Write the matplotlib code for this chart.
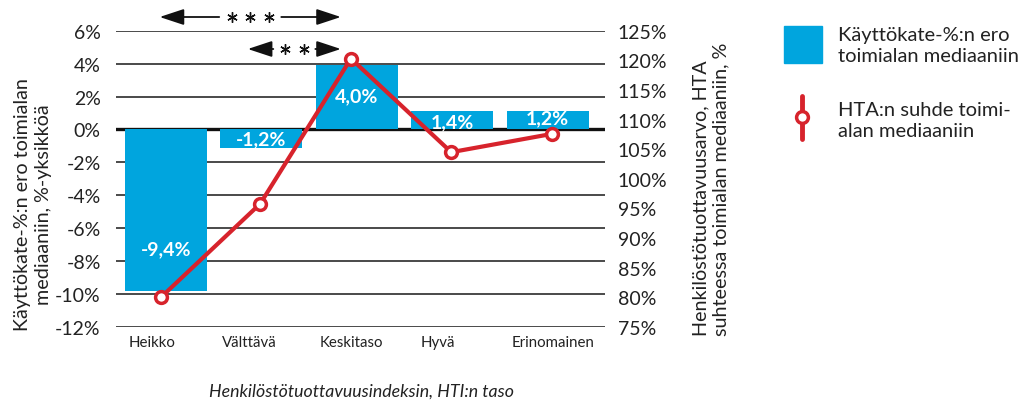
import matplotlib
matplotlib.use("Agg")
import matplotlib.pyplot as plt
import matplotlib.patches as mpatches
import matplotlib.lines as mlines
import matplotlib.transforms as mtrans
import numpy as np

plt.rcParams['font.family'] = ['Lato', 'DejaVu Sans']

categories = ["Heikko", "Välttävä", "Keskitaso", "Hyvä", "Erinomainen"]
bar_values = [-9.8, -1.15, 3.9, 1.1, 1.1]          # Käyttökate-%:n ero, %-yks.
bar_labels = ["-9,4%", "-1,2%", "4,0%", "1,4%", "1,2%"]
hta_values = [80.0, 95.8, 120.3, 104.5, 107.6]     # HTA suhde mediaaniin, %
left_ticks = [6, 4, 2, 0, -2, -4, -6, -8, -10, -12]
right_ticks = [125, 120, 115, 110, 105, 100, 95, 90, 85, 80, 75]
sig_pairs = [(0, 2, 3), (1, 2, 2)]                 # (from, to, number of stars)

BLUE = "#00A5DE"
RED = "#D7232C"
GRID = "#3c3c3c"
TXT = "#222222"
W, H = 1022, 402

fig = plt.figure(figsize=(W/100, H/100), dpi=100)
ax = fig.add_axes([116/W, 1-328/H, (605-116)/W, (328-31.7)/H])
ax2 = ax.twinx()

x = np.arange(len(categories))
ax.set_ylim(-12, 6)
ax2.set_ylim(75, 125)
ax.set_xlim(-0.52, 4.60)

for t in left_ticks:
    ax.axhline(t, color=GRID if t != 0 else "#111111", lw=1.3 if t != 0 else 2.4, zorder=1)

ax.bar(x, bar_values, width=0.86, color=BLUE, zorder=2)
label_frac = [0.74, 0.5, 0.53, 0.45, 0.66]
for xi, v, lab, fr in zip(x, bar_values, bar_labels, label_frac):
    ax.text(xi, v * fr, lab, ha="center", va="center", color="white",
            fontsize=14, fontweight="bold", zorder=3)

marker_dx = [-0.05, -0.01, -0.06, -0.01, 0.05]
ax2.plot(x + np.array(marker_dx), hta_values, color=RED, lw=3, marker="o", ms=8.5,
         mfc="white", mec=RED, mew=2.5, zorder=5)

for a in (ax, ax2):
    for s in a.spines.values():
        s.set_visible(False)
    a.tick_params(length=0, labelsize=14, labelcolor=TXT)

ax.set_yticks(left_ticks)
ax.set_yticklabels([f"{t}%" for t in left_ticks])
ax.tick_params(axis="y", pad=11)
ax2.set_yticks(right_ticks)
ax2.set_yticklabels([f"{t}%" for t in right_ticks])
ax2.tick_params(axis="y", pad=9)

xoff = [-0.14, -0.12, -0.06, -0.15, 0.06]
ax.set_xticks(x + np.array(xoff))
ax.set_xticklabels(categories, fontsize=10.8)
ax.tick_params(axis="x", pad=6)

fig.text(361/W, 1-392/H, "Henkilöstötuottavuusindeksin, HTI:n taso",
         ha="center", va="center", fontsize=12.8, style="italic", color=TXT)

fig.text(33/W, 1-205/H, "Käyttökate-%:n ero toimialan\nmediaaniin, %-yksikköä",
         rotation=90, ha="center", va="center", fontsize=14.2, color=TXT,
         linespacing=1.3)
fig.text(711/W, 1-336/H, "Henkilöstötuottavuusarvo, HTA\nsuhteessa toimialan mediaaniin, %",
         rotation=90, ha="center", va="bottom", multialignment="left",
         fontsize=14.2, color=TXT, linespacing=1.2)

# significance arrows: x in data units, y in figure pixels
blend = mtrans.blended_transform_factory(ax.transData, fig.transFigure)
px = 1 / 95.4  # one pixel in category units
def sig_arrow(i0, i1, n, ypix, left_off):
    y = 1 - ypix / H
    xa = i0 + left_off
    xb = i1 - 0.166
    xm = (xa + xb) / 2
    half = (10 * n + 1) * px
    kw = dict(arrowstyle="-|>,head_length=1.0,head_width=0.33", color="#111111",
              lw=1.3, shrinkA=0, shrinkB=0, mutation_scale=15)
    for tip, tail in ((xa, xm - half), (xb, xm + half)):
        ax.annotate("", xy=(tip, y), xytext=(tail, y), xycoords=blend,
                    textcoords=blend, arrowprops=kw, annotation_clip=False)
    xs = [xm + (k - (n - 1) / 2) * 18.5 * px for k in range(n)]
    ax.plot(xs, [y] * n, transform=blend, ls="none", marker=(6, 2, 0), ms=7.5,
            mew=1.0, color="#111111", clip_on=False)

sig_arrow(*sig_pairs[0], 18, -0.063)
sig_arrow(*sig_pairs[1], 50, -0.14)

# legend
fig.patches.append(mpatches.Rectangle((784/W, 1-64/H), 38/W, 37/H,
                   transform=fig.transFigure, color=BLUE, figure=fig))
fig.text(838/W, 1-46/H, "Käyttökate-%:n ero\ntoimialan mediaaniin",
         ha="left", va="center", fontsize=14.5, color=TXT, linespacing=1.3)
fig.add_artist(mlines.Line2D([802/W, 802/W], [1-97/H, 1-140/H],
               color=RED, lw=3.5, solid_capstyle="round"))
fig.add_artist(mlines.Line2D([802/W], [1-118/H], color=RED, marker="o",
               ms=8.5, mfc="white", mec=RED, mew=2.5))
fig.text(838/W, 1-121/H, "HTA:n suhde toimi-\nalan mediaaniin",
         ha="left", va="center", fontsize=14.5, color=TXT, linespacing=1.3)

fig.savefig("out.png", dpi=100)
